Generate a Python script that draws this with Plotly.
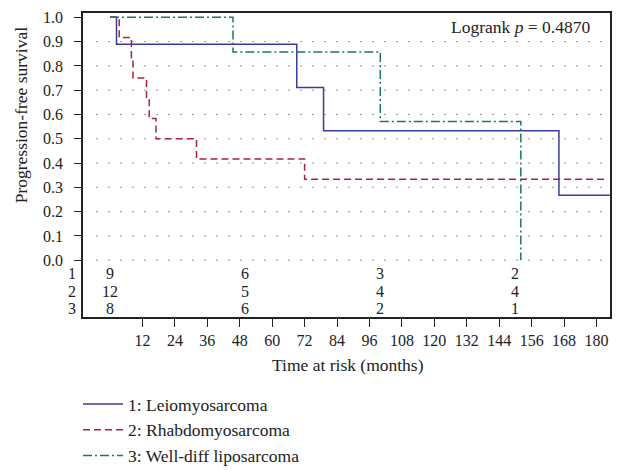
import plotly.graph_objects as go

# ---- data ----
leio_t = [0, 2.4, 69.1, 79.0, 166.1, 185]
leio_s = [1.0, 0.889, 0.711, 0.533, 0.267, 0.267]

rhab_t = [0, 3.4, 7.9, 8.5, 13.5, 14.5, 17.0, 32.0, 72.0, 183]
rhab_s = [1.0, 0.917, 0.833, 0.75, 0.667, 0.583, 0.5, 0.417, 0.333, 0.333]

lipo_t = [0, 45.5, 100.0, 152.0]
lipo_s = [1.0, 0.857, 0.571, 0.0]

risk_times = [0, 50, 100, 150]
risk_leio = [9, 6, 3, 2]
risk_rhab = [12, 5, 4, 4]
risk_lipo = [8, 6, 2, 1]

names = ["1: Leiomyosarcoma", "2: Rhabdomyosarcoma", "3: Well-diff liposarcoma"]
colors = ["#3a3c9c", "#a8243c", "#1b7868"]
dashes = ["solid", "7px,4px", "9px,3px,2px,3px"]

x_ticks = list(range(12, 181, 12))
y_ticks = [round(i * 0.1, 1) for i in range(11)]
grid_levels = [round(i * 0.1, 1) for i in range(10)]

FONT = "Liberation Serif"
TXT = "#222222"

fig = go.Figure()
for i, (t, s) in enumerate([(leio_t, leio_s), (rhab_t, rhab_s), (lipo_t, lipo_s)]):
    fig.add_trace(go.Scatter(
        x=t, y=s, mode="lines", name=names[i],
        line=dict(color=colors[i], width=1.5, dash=dashes[i], shape="hv"),
        legendgroup=str(i),
    ))

shapes = []
for g in grid_levels:
    shapes.append(dict(type="line", xref="x", yref="y", x0=-5, x1=183, y0=g, y1=g,
                       line=dict(color="#333333", width=1, dash="1px,11px"), layer="below"))

annotations = []
risk_rows = [risk_leio, risk_rhab, risk_lipo]
row_y = [-0.055, -0.131, -0.199]
for r, (vals, yy) in enumerate(zip(risk_rows, row_y)):
    annotations.append(dict(x=-0.009, xref="paper", y=yy, yref="y", text=str(r + 1),
                            showarrow=False, xanchor="right", yanchor="middle",
                            font=dict(family=FONT, size=16, color=TXT)))
    for t, v in zip(risk_times, vals):
        annotations.append(dict(x=t, xref="x", y=yy, yref="y", text=str(v),
                                showarrow=False, xanchor="center", yanchor="middle",
                                font=dict(family=FONT, size=16, color=TXT)))

annotations.append(dict(x=178.3, xref="x", y=0.962, yref="y",
                        text="Logrank <i>p</i> = 0.4870", showarrow=False,
                        xanchor="right", yanchor="middle",
                        font=dict(family=FONT, size=17.5, color=TXT)))
annotations.append(dict(x=-0.117, xref="paper", y=0.598, yref="y",
                        text="Progression-free survival", textangle=-90, showarrow=False,
                        xanchor="center", yanchor="middle",
                        font=dict(family=FONT, size=17.5, color=TXT)))
annotations.append(dict(x=0.502, xref="paper", y=-0.159, yref="paper",
                        text="Time at risk (months)", showarrow=False,
                        xanchor="center", yanchor="middle",
                        font=dict(family=FONT, size=17.5, color=TXT)))

fig.update_layout(
    width=622, height=471,
    margin=dict(l=83, r=12, t=13, b=154, autoexpand=False),
    paper_bgcolor="white", plot_bgcolor="white",
    font=dict(family=FONT, size=16, color=TXT),
    shapes=shapes, annotations=annotations,
    showlegend=True,
    legend=dict(x=78 / 622, y=1 - 386 / 471, xref="container", yref="container",
                xanchor="left", yanchor="top", itemwidth=40,
                traceorder="grouped", tracegroupgap=0,
                font=dict(family=FONT, size=17.5, color=TXT),
                bgcolor="rgba(0,0,0,0)"),
    xaxis=dict(range=[-10, 185], tickvals=x_ticks, ticks="outside", ticklen=8,
               tickwidth=1.2, tickcolor=TXT, showline=True, linecolor=TXT,
               linewidth=1.5, mirror=True, showgrid=False, zeroline=False,
               automargin=False),
    yaxis=dict(range=[-0.234, 1.018], tickvals=y_ticks, tickformat=".1f",
               ticks="outside", ticklen=7, tickwidth=1.2, tickcolor=TXT,
               ticklabelstandoff=8,
               showline=True, linecolor=TXT, linewidth=1.5, mirror=True,
               showgrid=False, zeroline=False, automargin=False),
)

fig.write_html("out.html")
